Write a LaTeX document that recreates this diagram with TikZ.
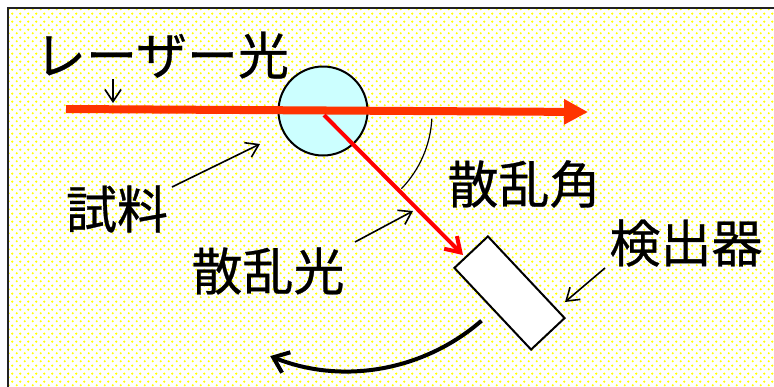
\documentclass[tikz,border=0pt]{standalone}
\usepackage{fontspec}
\newfontfamily\jp[FakeBold=0.6]{Noto Sans CJK JP}
\usetikzlibrary{arrows.meta,patterns}
\pgfdeclarepatternformonly{ydots}{\pgfpoint{0pt}{0pt}}{\pgfpoint{7.5pt}{8pt}}{\pgfpoint{7.5pt}{8pt}}{%
  \pgfpathcircle{\pgfpoint{1.875pt}{2pt}}{1.3pt}%
  \pgfpathcircle{\pgfpoint{5.625pt}{6pt}}{1.3pt}%
  \pgfusepath{fill}}
\definecolor{laserc}{HTML}{FF3300}
\definecolor{scatc}{HTML}{FF0000}
\definecolor{samplec}{HTML}{CCFFFF}
\definecolor{dotc}{HTML}{FFFF00}
\definecolor{framec}{HTML}{222222}
\begin{document}
\begin{tikzpicture}[x=1pt,y=-1pt,
  lbl/.style={font=\jp\fontsize{51pt}{60pt}\selectfont, inner sep=0pt, text=black},
  pointer/.style={draw=black, line width=1.6pt, -{Straight Barb[length=12pt,width=16pt]}},
  laserbeam/.style={draw=laserc, line width=8pt, -{Triangle[length=24pt,width=24pt]}},
  scatbeam/.style={draw=scatc, line width=4pt, -{Straight Barb[length=14pt,width=18pt]}},
  samplebox/.style={circle, draw=black, line width=2pt, fill=samplec, minimum size=89pt, inner sep=0pt},
  detbox/.style={rectangle, draw=black, line width=2pt, fill=white, minimum width=112pt, minimum height=46pt, inner sep=0pt},
  rotarrow/.style={draw=black, line width=4pt, -{Straight Barb[length=14pt,width=22pt]}},
  anglearc/.style={draw=black, line width=1.2pt}]
\useasboundingbox (0,0) rectangle (774,386);
\fill[white] (0,0) rectangle (774,386);
\fill[pattern=ydots, pattern color=dotc] (8,8) rectangle (774,386);
\draw[framec, line width=2.2pt] (8,390) -- (8,8) -- (780,8);

% sample
\node[samplebox] (sample) at (323,111) {};
% laser beam
\coordinate (lstart) at (66,109);
\coordinate (ltip) at (588,112);
\draw[laserbeam] (lstart) -- (ltip);
% detector
\node[detbox, rotate=-46.8] (det) at (509.5,293) {};
% scattered beam
\coordinate (S) at (324,115);
\coordinate (dtip) at (463,255);
\draw[scatbeam] (S) -- (dtip);
% scattering angle arc
\coordinate (C) at (323,113);
\draw[anglearc] ([shift={(3:109)}]C) arc[start angle=3, end angle=44, radius=109];
% rotation arrow
\coordinate (R) at (347,166);
\draw[rotarrow] ([shift={(49:205)}]R) arc[start angle=49, end angle=112, radius=205];

% labels
\node[lbl] (laserlbl) at (162,55) {レーザー光};
\node[lbl] (samplelbl) at (117,209) {試料};
\node[lbl] (anglelbl) at (524,184) {散乱角};
\node[lbl] (scatlbl) at (268,271) {散乱光};
\node[lbl] (detlbl) at (686,243) {検出器};

% pointers
\coordinate (p1a) at (113,79);  \coordinate (p1b) at (113,103);
\coordinate (p2a) at (172,187); \coordinate (p2b) at (260,144);
\coordinate (p3a) at (355,242); \coordinate (p3b) at (413,211);
\coordinate (p4a) at (605,268); \coordinate (p4b) at (565,302);
\draw[pointer] (p1a) -- (p1b);
\draw[pointer] (p2a) -- (p2b);
\draw[pointer] (p3a) -- (p3b);
\draw[pointer] (p4a) -- (p4b);
\end{tikzpicture}
\end{document}
